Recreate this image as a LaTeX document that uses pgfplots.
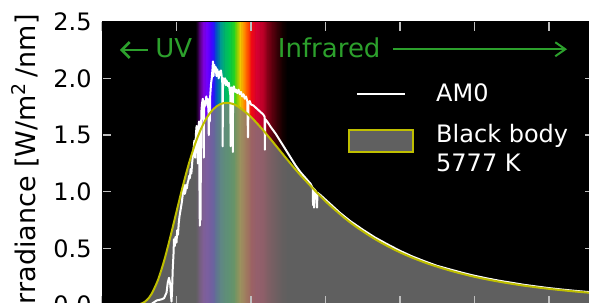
\documentclass[border=0pt]{standalone}
\usepackage{fontspec}
\setmainfont{DejaVu Sans}
\usepackage{pgfplots}
\pgfplotsset{compat=1.18}
\usetikzlibrary{arrows.meta}
\definecolor{uvgreen}{RGB}{44,160,44}
\definecolor{bbyellow}{RGB}{191,191,0}
\definecolor{fillgray}{RGB}{128,128,128}
\begin{document}
\begin{tikzpicture}
\begin{axis}[
  at={(0,0)}, anchor=south west,
  scale only axis, width=245.8pt, height=141.65pt,
  xmin=0, xmax=1980, ymin=0, ymax=2.5,
  axis background/.style={fill=black},
  axis line style={black},
  axis on top,
  xtick={0,300,...,1800}, xticklabels={},
  ytick={0,0.5,1,1.5,2,2.5},
  tick align=inside, major tick length=4.5pt,
  every tick/.style={white!75!black, line width=0.7pt},
  yticklabel style={font=\fontsize{12}{14}\selectfont, xshift=-1.7pt,
    /pgf/number format/.cd, fixed, fixed zerofill, precision=1, assume math mode=true},
  ylabel={Irradiance [W/m\textsuperscript{2}\,/nm]},
  every axis y label/.style={at={(axis description cs:-0.1566,0.5)}, rotate=90, anchor=center,
    font=\fontsize{13.5}{16}\selectfont},
  colormap={spec}{rgb255(0pt)=(0,0,0) rgb255(10pt)=(50,0,70) rgb255(20pt)=(100,0,150)
    rgb255(30pt)=(125,0,215) rgb255(45pt)=(115,0,255) rgb255(60pt)=(80,0,255)
    rgb255(72pt)=(40,20,255) rgb255(85pt)=(0,90,190) rgb255(100pt)=(0,150,150)
    rgb255(115pt)=(0,180,110) rgb255(135pt)=(0,200,80) rgb255(155pt)=(40,210,30)
    rgb255(168pt)=(150,210,0) rgb255(180pt)=(240,200,0) rgb255(195pt)=(255,140,0)
    rgb255(210pt)=(255,80,0) rgb255(225pt)=(240,10,20) rgb255(245pt)=(215,0,50)
    rgb255(270pt)=(190,0,40) rgb255(295pt)=(120,0,20) rgb255(320pt)=(70,0,10)
    rgb255(350pt)=(20,0,0) rgb255(370pt)=(0,0,0) rgb255(400pt)=(0,0,0)},
  point meta min=380, point meta max=780,
  legend style={at={(axis description cs:0.4984,0.7826)}, anchor=north west,
    draw=none, fill=none, inner sep=0pt, text=white,
    font=\fontsize{12}{14.5}\selectfont, row sep=8.7pt, column sep=11pt,
    nodes={inner sep=0pt}},
  legend cell align=left,
]
% visible spectrum band
\addplot[matrix plot*, mesh/cols=75, point meta=x, forget plot] coordinates {
(380,0) (385,0) (390,0) (395,0) (400,0) (405,0) (410,0) (415,0) (420,0) (425,0)
(430,0) (435,0) (440,0) (445,0) (450,0) (455,0) (460,0) (465,0) (470,0) (475,0)
(480,0) (485,0) (490,0) (495,0) (500,0) (505,0) (510,0) (515,0) (520,0) (525,0)
(530,0) (535,0) (540,0) (545,0) (550,0) (555,0) (560,0) (565,0) (570,0) (575,0)
(580,0) (585,0) (590,0) (595,0) (600,0) (605,0) (610,0) (615,0) (620,0) (625,0)
(630,0) (635,0) (640,0) (645,0) (650,0) (655,0) (660,0) (665,0) (670,0) (675,0)
(680,0) (685,0) (690,0) (695,0) (700,0) (705,0) (710,0) (715,0) (720,0) (725,0)
(730,0) (735,0) (740,0) (745,0) (750,0)
(380,2.5) (385,2.5) (390,2.5) (395,2.5) (400,2.5) (405,2.5) (410,2.5) (415,2.5) (420,2.5) (425,2.5)
(430,2.5) (435,2.5) (440,2.5) (445,2.5) (450,2.5) (455,2.5) (460,2.5) (465,2.5) (470,2.5) (475,2.5)
(480,2.5) (485,2.5) (490,2.5) (495,2.5) (500,2.5) (505,2.5) (510,2.5) (515,2.5) (520,2.5) (525,2.5)
(530,2.5) (535,2.5) (540,2.5) (545,2.5) (550,2.5) (555,2.5) (560,2.5) (565,2.5) (570,2.5) (575,2.5)
(580,2.5) (585,2.5) (590,2.5) (595,2.5) (600,2.5) (605,2.5) (610,2.5) (615,2.5) (620,2.5) (625,2.5)
(630,2.5) (635,2.5) (640,2.5) (645,2.5) (650,2.5) (655,2.5) (660,2.5) (665,2.5) (670,2.5) (675,2.5)
(680,2.5) (685,2.5) (690,2.5) (695,2.5) (700,2.5) (705,2.5) (710,2.5) (715,2.5) (720,2.5) (725,2.5)
(730,2.5) (735,2.5) (740,2.5) (745,2.5) (750,2.5)
};
% black body fill
\addplot[draw=none, fill=fillgray, fill opacity=0.75, forget plot] coordinates {
(100,0) (125,0.0006) (150,0.0066) (160,0.0134) (175,0.0324) (190,0.0661) (200,0.0986)
(225,0.218) (250,0.389) (275,0.598) (300,0.823) (325,1.045) (350,1.248) (375,1.421)
(400,1.560) (425,1.663) (450,1.732) (475,1.771) (500,1.784) (525,1.776) (550,1.749)
(600,1.659) (650,1.540) (700,1.407) (750,1.273) (800,1.145) (900,0.916) (1000,0.728)
(1100,0.581) (1200,0.465) (1300,0.375) (1400,0.305) (1500,0.249) (1600,0.2055)
(1700,0.1706) (1800,0.1428) (1900,0.1202) (2000,0.1019)
} \closedcycle;
% AM0
\addplot[white, line width=1pt, line join=round, forget plot] coordinates {
(200,0.01) (220,0.04) (240,0.05) (250,0.06) (260,0.11) (265,0.2) (270,0.24) (275,0.18)
(278,0.08) (280,0.03) (282,0.12) (285,0.32) (288,0.45) (290,0.58) (293,0.52) (296,0.6)
(300,0.55) (303,0.66) (306,0.62) (309,0.72) (312,0.78) (315,0.82) (318,0.86) (321,0.9)
(324,0.95) (327,1.02) (330,1.06) (333,0.98) (336,1.0) (339,1.06) (342,1.03) (345,1.08)
(348,1.1) (351,1.14) (354,1.12) (357,1.2) (360,1.16) (363,1.25) (366,1.32) (369,1.38)
(372,1.45) (375,1.3) (378,1.5) (381,1.58) (384,1.45) (386,1.25) (388,1.55) (391,1.62)
(393,0.9) (394,0.7) (395,1.0) (396,1.5) (397,0.75) (398,1.2) (400,1.7) (403,1.78)
(406,1.82) (409,1.75) (410,1.3) (411,1.72) (414,1.8) (417,1.76) (420,1.84) (423,1.78)
(426,1.82) (429,1.7) (430,1.5) (432,1.72) (434,1.62) (436,1.85) (439,1.95) (442,2.0)
(445,2.08) (447,2.15) (449,2.02) (452,2.12) (455,2.06) (458,2.1) (461,2.02) (464,2.08)
(467,2.05) (470,2.0) (473,2.06) (476,2.03) (479,2.07) (482,2.02) (485,1.95) (486,1.4)
(487,1.9) (490,2.0) (493,1.96) (496,2.0) (499,1.94) (502,1.98) (505,1.95) (508,1.93)
(511,1.96) (514,1.9) (517,1.85) (518,1.4) (519,1.88) (522,1.92) (525,1.88) (527,1.35)
(528,1.9) (531,1.93) (534,1.9) (537,1.88) (540,1.9) (545,1.87) (550,1.9) (555,1.86)
(560,1.88) (565,1.84) (570,1.86) (575,1.82) (580,1.84) (585,1.8) (588,1.48) (590,1.78)
(595,1.8) (600,1.77) (610,1.76) (620,1.74) (630,1.72) (640,1.7) (650,1.68) (655,1.66)
(656,1.37) (657,1.64) (665,1.62) (680,1.57) (700,1.51) (720,1.44) (740,1.37) (760,1.3)
(780,1.23) (800,1.17) (820,1.12) (840,1.07) (849,1.03) (850,0.88) (852,1.03) (854,0.86)
(856,1.02) (862,1.0) (866,0.86) (868,0.99) (880,0.97) (900,0.93) (920,0.89) (940,0.85)
(960,0.81) (980,0.775) (1000,0.74) (1050,0.665) (1100,0.595) (1150,0.535) (1200,0.478)
(1250,0.428) (1300,0.385) (1350,0.345) (1400,0.315) (1450,0.285) (1500,0.258) (1550,0.235)
(1600,0.214) (1650,0.196) (1700,0.178) (1750,0.163) (1800,0.149) (1850,0.137) (1900,0.126)
(1950,0.116) (2000,0.107)
};
% black body line
\addplot[bbyellow, line width=1pt, smooth, forget plot] coordinates {
(100,0) (125,0.0006) (150,0.0066) (160,0.0134) (175,0.0324) (190,0.0661) (200,0.0986)
(225,0.218) (250,0.389) (275,0.598) (300,0.823) (325,1.045) (350,1.248) (375,1.421)
(400,1.560) (425,1.663) (450,1.732) (475,1.771) (500,1.784) (525,1.776) (550,1.749)
(600,1.659) (650,1.540) (700,1.407) (750,1.273) (800,1.145) (900,0.916) (1000,0.728)
(1100,0.581) (1200,0.465) (1300,0.375) (1400,0.305) (1500,0.249) (1600,0.2055)
(1700,0.1706) (1800,0.1428) (1900,0.1202) (2000,0.1019)
};
\addlegendimage{legend image code/.code={\path (0pt,0pt) -- (33pt,0pt); \draw[white, line width=1pt] (4.5pt,0pt) -- (28.5pt,0pt);}}
\addlegendentry{AM0}
\addlegendimage{legend image code/.code={\draw[bbyellow, line width=1pt, fill=fillgray!75!black] (0.5pt,-5.5pt) rectangle (32.5pt,5.5pt);}}
\addlegendentry{\begin{tabular}{@{}l@{}}Black body\\5777 K\end{tabular}}
% annotations
\node[anchor=base west, inner sep=0pt, text=uvgreen, font=\fontsize{13}{15}\selectfont] at (axis cs:213,2.186) {UV};
\draw[uvgreen, line width=1.3pt, -{Straight Barb[length=4pt,width=8pt]}] (axis cs:185,2.25) -- (axis cs:72,2.25);
\node[anchor=base west, inner sep=0pt, text=uvgreen, font=\fontsize{13}{15}\selectfont] at (axis cs:707,2.186) {Infrared};
\draw[uvgreen, line width=1pt, -{Straight Barb[length=5pt,width=7pt]}] (axis cs:1172,2.257) -- (axis cs:1873,2.257);
\end{axis}
\pgfresetboundingbox
\path[use as bounding box] (-51pt,1pt) rectangle (243.5pt,152.5pt);
\end{tikzpicture}
\end{document}
